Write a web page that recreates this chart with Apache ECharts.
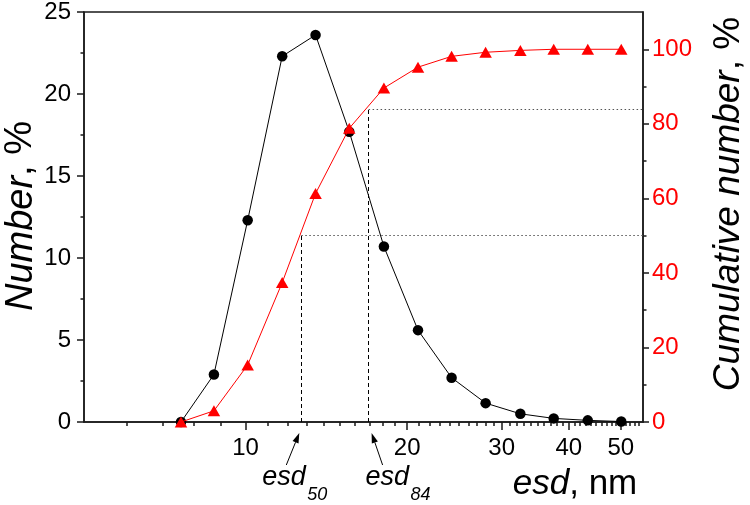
<!DOCTYPE html>
<html><head><meta charset="utf-8">
<script src="https://cdn.jsdelivr.net/npm/echarts@6/dist/echarts.min.js"></script>
<style>html,body{margin:0;padding:0;background:#fff}#c{width:750px;height:505px}</style>
</head><body><div id="c"></div><script>
// ---- data ----
const sizesNm = [7.58, 8.73, 10.09, 11.7, 13.5, 15.6, 18.1, 20.95, 24.2, 28.0, 32.5, 37.5, 43.4, 50.1];
const numberPct = [0, 2.9, 12.3, 22.3, 23.6, 17.7, 10.7, 5.6, 2.7, 1.15, 0.5, 0.22, 0.1, 0.03];
const cumulativePct = [0, 3.0, 15.3, 37.4, 61.3, 78.8, 89.6, 95.2, 98.1, 99.2, 99.7, 100, 100, 100];
const xMajorTicks = [10, 20, 30, 40, 50];
const xMinorTicks = [6, 7, 8, 9, 11, 12, 13, 14, 15, 16, 17, 18, 19, 21, 22, 23, 24, 25, 26, 27, 28, 29,
  31, 32, 33, 34, 35, 36, 37, 38, 39, 41, 42, 43, 44, 45, 46, 47, 48, 49, 51, 52, 53, 54];
const rightMajorTicks = [0, 20, 40, 60, 80, 100];
const rightMinorTicks = [10, 30, 50, 70, 90];
const esd50 = 12.7, esd84 = 16.95;
const level50 = 50, level84 = 84;
const xMin = 5, xMax = 55;

const FONT = '"Liberation Sans", Arial, sans-serif';
const AX = '#1a1a1a';
const chart = echarts.init(document.getElementById('c'), null, {renderer: 'canvas'});

const axisLineStyle = {show: true, lineStyle: {color: AX, width: 1.5}};
const option = {
  animation: false,
  backgroundColor: '#fff',
  grid: {left: 84, top: 12, width: 559, height: 410, show: true, borderColor: AX, borderWidth: 1.5, backgroundColor: 'transparent'},
  xAxis: [
    {type: 'log', logBase: 10, min: xMin, max: xMax, position: 'bottom',
      axisLine: axisLineStyle,
      axisTick: {show: true, customValues: xMajorTicks, length: 8, lineStyle: {color: AX, width: 1.5}},
      axisLabel: {customValues: xMajorTicks, formatter: v => String(Math.round(v)), fontFamily: FONT, fontSize: 24, color: '#000', margin: 14},
      splitLine: {show: false}, minorTick: {show: false}, minorSplitLine: {show: false}},
    {type: 'log', logBase: 10, min: xMin, max: xMax, position: 'bottom',
      axisLine: {show: false},
      axisTick: {show: true, customValues: xMinorTicks, length: 4, lineStyle: {color: AX, width: 1.5}},
      axisLabel: {show: false}, splitLine: {show: false}}
  ],
  yAxis: [
    {type: 'value', min: 0, max: 25, interval: 5, position: 'left',
      axisLine: axisLineStyle,
      axisTick: {show: true, length: 7, lineStyle: {color: AX, width: 1.5}},
      minorTick: {show: true, splitNumber: 2, length: 3.5, lineStyle: {color: AX, width: 1.5}},
      axisLabel: {fontFamily: FONT, fontSize: 24, color: '#000', margin: 13},
      splitLine: {show: false}},
    {type: 'value', min: 0, max: 110, position: 'right',
      axisLine: axisLineStyle,
      axisTick: {show: true, customValues: rightMajorTicks, length: 6, lineStyle: {color: AX, width: 1.5}},
      axisLabel: {customValues: rightMajorTicks, fontFamily: FONT, fontSize: 24, color: '#ff0000', margin: 9},
      splitLine: {show: false}},
    {type: 'value', min: 0, max: 110, position: 'right',
      axisLine: {show: false},
      axisTick: {show: true, customValues: rightMinorTicks, length: 3.5, lineStyle: {color: AX, width: 1.5}},
      axisLabel: {show: false}, splitLine: {show: false}}
  ],
  series: [
    {type: 'line', name: 'Number', xAxisIndex: 0, yAxisIndex: 0,
      data: sizesNm.map((x, i) => [x, numberPct[i]]),
      symbol: 'circle', symbolSize: 10.5, showSymbol: true,
      lineStyle: {color: '#000', width: 1}, itemStyle: {color: '#000'}, z: 3},
    {type: 'line', name: 'Cumulative', xAxisIndex: 0, yAxisIndex: 1,
      data: sizesNm.map((x, i) => [x, cumulativePct[i]]),
      symbol: 'triangle', symbolSize: [12.5, 11], showSymbol: true,
      lineStyle: {color: '#ff0000', width: 1}, itemStyle: {color: '#ff0000'}, z: 4,
      markLine: {
        silent: true, symbol: 'none', label: {show: false}, animation: false,
        emphasis: {disabled: true},
        data: [
          [{coord: [esd50, 0], lineStyle: {type: [4, 3], color: '#000', width: 1}}, {coord: [esd50, level50]}],
          [{coord: [esd50, level50], lineStyle: {type: [1.5, 2.5], color: '#555', width: 1}}, {coord: [xMax, level50]}],
          [{coord: [esd84, 0], lineStyle: {type: [4, 3], color: '#000', width: 1}}, {coord: [esd84, level84]}],
          [{coord: [esd84, level84], lineStyle: {type: [1.5, 2.5], color: '#555', width: 1}}, {coord: [xMax, level84]}]
        ]
      }}
  ]
};
chart.setOption(option);

// ---- annotations ----
function arrow(x1, y1, x2, y2) {
  const dx = x2 - x1, dy = y2 - y1, L = Math.hypot(dx, dy);
  const ux = dx / L, uy = dy / L, hl = 10, hw = 3.2;
  const bx = x2 - ux * hl, by = y2 - uy * hl;
  return [
    {type: 'line', shape: {x1: x1, y1: y1, x2: bx, y2: by}, style: {stroke: '#000', lineWidth: 1}, silent: true},
    {type: 'polygon', shape: {points: [[x2, y2], [bx - uy * hw, by + ux * hw], [bx + uy * hw, by - ux * hw]]}, style: {fill: '#000'}, silent: true}
  ];
}
const p50 = chart.convertToPixel({xAxisIndex: 0}, esd50);
const p84 = chart.convertToPixel({xAxisIndex: 0}, esd84);
const y0 = chart.convertToPixel({yAxisIndex: 0}, 0);

const txt = (x, y, text, size, italic, extra) => Object.assign({
  type: 'text', x: x, y: y, silent: true,
  style: {text: text, fill: '#000', font: (italic ? 'italic ' : '') + size + 'px ' + FONT, align: 'left', verticalAlign: 'middle'}
}, extra || {});

const graphics = [].concat(
  arrow(p50 - 15, y0 + 43, p50 - 2, y0 + 11),
  arrow(p84 + 14, y0 + 43, p84 + 3, y0 + 11),
  [
    txt(p50 - 39, y0 + 55, 'esd', 27, true),
    txt(p50 + 6, y0 + 73, '50', 18, true),
    txt(p84 - 3, y0 + 55, 'esd', 27, true),
    txt(p84 + 42, y0 + 73, '84', 18, true),
    {type: 'text', x: 575, y: 484, silent: true,
      style: {text: '{i|esd}{n|, nm}', align: 'center', verticalAlign: 'middle', fill: '#000',
        rich: {i: {fontStyle: 'italic', fontSize: 35, fontFamily: FONT, fill: '#000'}, n: {fontSize: 35, fontFamily: FONT, fill: '#000'}}}},
    {type: 'text', x: 21, y: 216, rotation: Math.PI / 2, silent: true,
      style: {text: '{i|Number}{n|, %}', align: 'center', verticalAlign: 'middle', fill: '#000',
        rich: {i: {fontStyle: 'italic', fontSize: 38, fontFamily: FONT, fill: '#000'}, n: {fontSize: 38, fontFamily: FONT, fill: '#000'}}}},
    {type: 'text', x: 729, y: 204, rotation: Math.PI / 2, silent: true,
      style: {text: '{i|Cumulative number}{n|, %}', align: 'center', verticalAlign: 'middle', fill: '#000',
        rich: {i: {fontStyle: 'italic', fontSize: 37, fontFamily: FONT, fill: '#000'}, n: {fontSize: 37, fontFamily: FONT, fill: '#000'}}}}
  ]
);
chart.setOption({graphic: graphics});
</script></body></html>
